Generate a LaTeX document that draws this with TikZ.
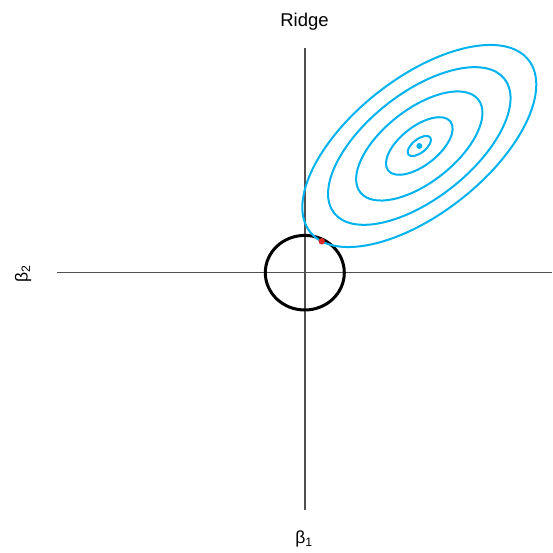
\documentclass[tikz,border=0pt]{standalone}
\usepackage{fontspec}
\setmainfont{Liberation Sans}
\definecolor{contour}{RGB}{0,178,238}
\definecolor{axisgray}{RGB}{80,80,80}
\definecolor{tangent}{RGB}{220,40,40}
\begin{document}
\begin{tikzpicture}[x=1pt,y=1pt,
  axisline/.style={draw=axisgray,line width=1.3pt},
  contourline/.style={draw=contour,line width=2pt},
  constraint/.style={draw=black,line width=3pt},
  lbl/.style={inner sep=0pt,font=\fontsize{17.5}{19}\selectfont}]
\useasboundingbox (0,0) rectangle (552,553);
% axes
\coordinate (vtop) at (305,505);
\coordinate (vbot) at (305,43);
\coordinate (hleft) at (57,280.3);
\coordinate (hright) at (552,280.3);
\draw[axisline] (vtop) -- (vbot);
\draw[axisline] (hleft) -- (hright);
% constraint region
\coordinate (origin) at (304.8,280.3);
\draw[constraint] (origin) ellipse [x radius=39.5, y radius=37.3];
% contours
\coordinate (ols) at (419.3,407);
\begin{scope}[shift={(ols)},rotate=38.2]
  \foreach \s in {1,0.78,0.54,0.285,0.1}
    \draw[contourline] (0,0) ellipse [x radius=139*\s, y radius=67.6*\s];
\end{scope}
\fill[contour] (ols) circle (3);
% tangent point
\coordinate (tp) at (321.7,311.7);
\fill[tangent] (tp) circle (3.2);
% labels
\node[lbl,font=\fontsize{18.5}{20}\selectfont,anchor=base] (title) at (304.5,526) {Ridge};
\node[lbl] (b1) at (304,14) {β\textsubscript{1}};
\node[lbl,rotate=90] (b2) at (23,279) {β\textsubscript{2}};
\end{tikzpicture}
\end{document}
